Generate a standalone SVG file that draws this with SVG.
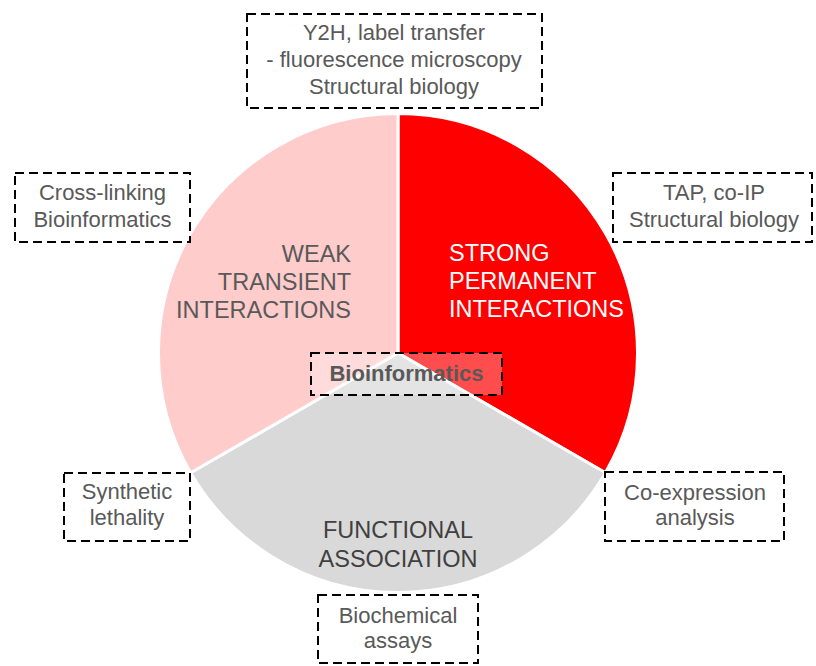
<svg xmlns="http://www.w3.org/2000/svg" width="816" height="666" viewBox="0 0 816 666">
  <style>
    .seg { stroke: #ffffff; stroke-width: 3; stroke-linejoin: round; }
    .box { fill: none; stroke: #000000; stroke-width: 2; stroke-dasharray: 9 5; }
    .lbl { font-family: "Liberation Sans", Arial, sans-serif; font-size: 22px; fill: #595959; text-anchor: middle; }
    .big { font-family: "Liberation Sans", Arial, sans-serif; font-size: 23.5px; }
  </style>

  <rect width="816" height="666" fill="#ffffff"/>

  <!-- pie segments, centre (398,353) -->
  <g id="strong-permanent">
    <path class="seg" fill="#ff0000" d="M398,353 L398,113.5 A239.5,239.5 0 0 1 605.4,472.8 Z"/>
    <text class="big" fill="#ffffff" x="449" y="261">STRONG</text>
    <text class="big" fill="#ffffff" x="449" y="289">PERMANENT</text>
    <text class="big" fill="#ffffff" x="449" y="317">INTERACTIONS</text>
  </g>
  <g id="functional-association">
    <path class="seg" fill="#d9d9d9" d="M398,353 L605.4,472.8 A239.5,239.5 0 0 1 190.6,472.8 Z"/>
    <text class="big" fill="#404040" text-anchor="middle" x="398" y="538">FUNCTIONAL</text>
    <text class="big" fill="#404040" text-anchor="middle" x="398" y="567">ASSOCIATION</text>
  </g>
  <g id="weak-transient">
    <path class="seg" fill="#ffcccc" d="M398,353 L190.6,472.8 A239.5,239.5 0 0 1 398,113.5 Z"/>
    <text class="big" fill="#595959" text-anchor="end" x="351" y="262">WEAK</text>
    <text class="big" fill="#595959" text-anchor="end" x="351" y="290">TRANSIENT</text>
    <text class="big" fill="#595959" text-anchor="end" x="351" y="318">INTERACTIONS</text>
  </g>

  <!-- method boxes -->
  <g id="box-top">
    <rect class="box" x="247" y="14" width="295" height="94"/>
    <text class="lbl" x="394" y="40">Y2H, label transfer</text>
    <text class="lbl" x="394" y="67">- fluorescence microscopy</text>
    <text class="lbl" x="394" y="94">Structural biology</text>
  </g>
  <g id="box-cross-linking">
    <rect class="box" x="15" y="173" width="175" height="69"/>
    <text class="lbl" x="102.5" y="200">Cross-linking</text>
    <text class="lbl" x="102.5" y="227">Bioinformatics</text>
  </g>
  <g id="box-tap">
    <rect class="box" x="613" y="173" width="199" height="69"/>
    <text class="lbl" x="714" y="200">TAP, co-IP</text>
    <text class="lbl" x="714" y="227">Structural biology</text>
  </g>
  <g id="box-synthetic">
    <rect class="box" x="64" y="473" width="126" height="68"/>
    <text class="lbl" x="127" y="499">Synthetic</text>
    <text class="lbl" x="127" y="525">lethality</text>
  </g>
  <g id="box-coexpression">
    <rect class="box" x="605" y="472" width="179" height="69"/>
    <text class="lbl" x="695" y="500">Co-expression</text>
    <text class="lbl" x="695" y="525">analysis</text>
  </g>
  <g id="box-biochemical">
    <rect class="box" x="318" y="595" width="160" height="68"/>
    <text class="lbl" x="398" y="623">Biochemical</text>
    <text class="lbl" x="398" y="648">assays</text>
  </g>
  <g id="box-bioinformatics">
    <rect x="311" y="353" width="191" height="42" fill="#ffffff" fill-opacity="0.3"/>
    <rect class="box" x="311" y="353" width="191" height="42"/>
    <text class="lbl" x="406.5" y="381" font-weight="bold" fill="#404040">Bioinformatics</text>
  </g>
</svg>
